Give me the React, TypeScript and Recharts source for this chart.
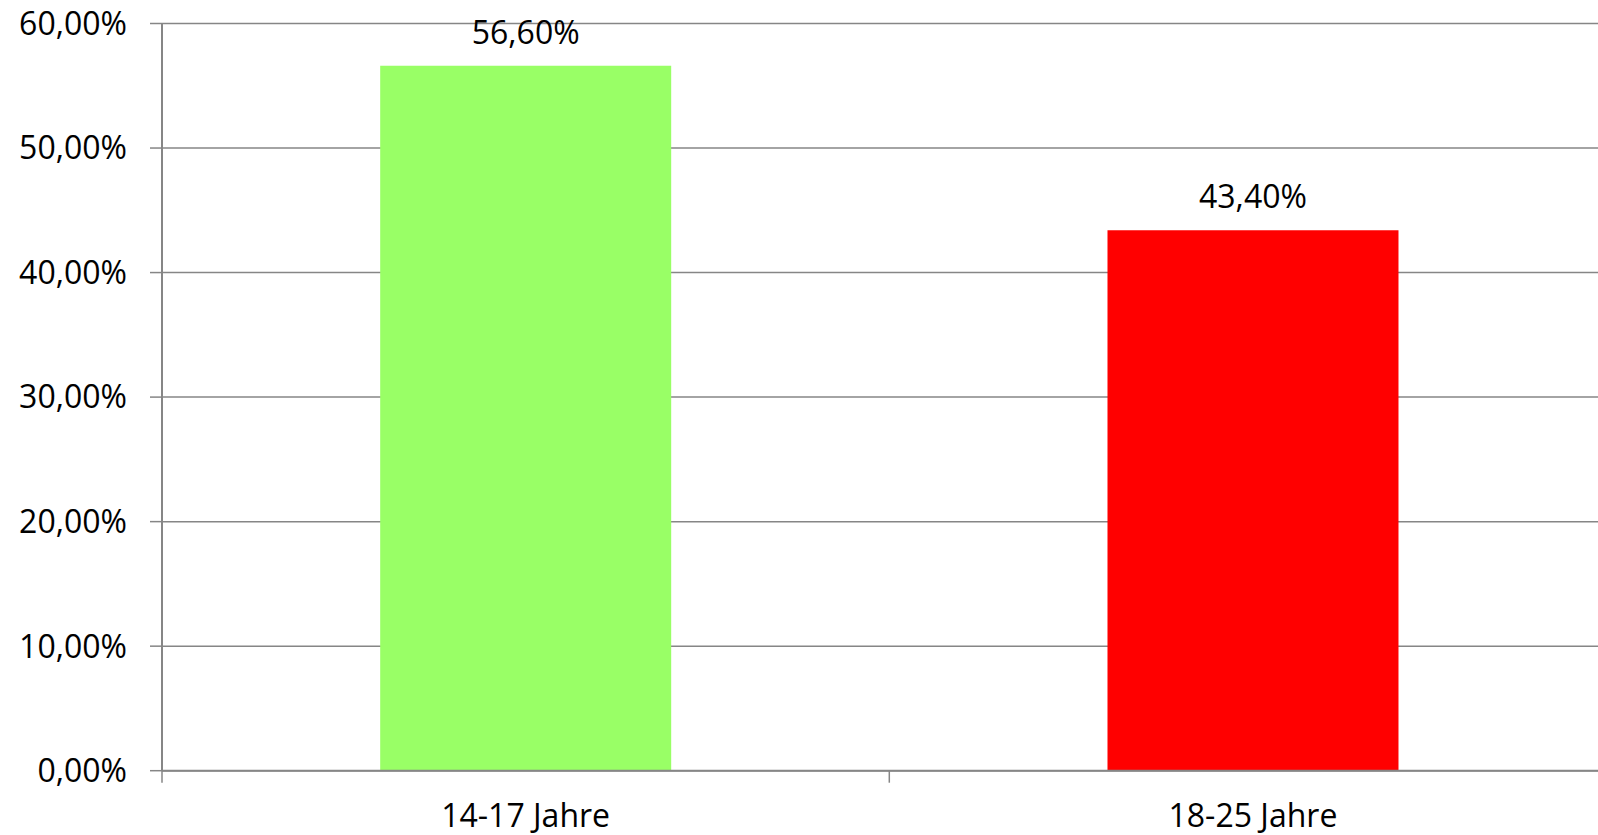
import React from 'react';
import { BarChart, Bar, XAxis, YAxis, CartesianGrid, Cell, LabelList } from 'recharts';

const categories = ['14-17 Jahre', '18-25 Jahre'];
const shares = [0.566, 0.434];
const barColors = ['#99FF66', '#FF0000'];
const yTicks = [0, 0.1, 0.2, 0.3, 0.4, 0.5, 0.6];

const data = categories.map((name, i) => ({ name, value: shares[i] }));

const pct = (v: number) => (v * 100).toFixed(2).replace('.', ',') + '%';

const FONT = '"Open Sans", "Noto Sans", sans-serif';
const AXIS = '#868686';

// category label in the middle, tick mark on the left edge of each band
const CategoryTick = (props: any) => {
  const { x, y, payload } = props;
  const half = payload && payload.offset ? payload.offset : 0;
  return (
    <g>
      <line x1={x - half} x2={x - half} y1={y} y2={y + 12} stroke={AXIS} strokeWidth={1.5} />
      <text x={x} y={y + 56} textAnchor="middle" fill="#000" fontSize={32} fontFamily={FONT}>
        {payload.value}
      </text>
    </g>
  );
};

const App: React.FC = () => {
  return (
    <div style={{ position: 'fixed', left: 0, top: 0, width: 1598, height: 835, overflow: 'hidden', background: '#fff' }}>
      <BarChart
        width={1620}
        height={835}
        data={data}
        margin={{ top: 23.5, right: 3.4, bottom: 0, left: 0 }}
        barCategoryGap="30%"
      >
        <CartesianGrid vertical={false} stroke={AXIS} strokeWidth={1.5} />
        <XAxis
          dataKey="name"
          height={64.3}
          axisLine={{ stroke: AXIS, strokeWidth: 2 }}
          tickLine={false}
          tickSize={0}
          tickMargin={0}
          tick={<CategoryTick />}
          interval={0}
        />
        <YAxis
          width={162}
          domain={[0, 0.6]}
          ticks={yTicks}
          tickFormatter={pct}
          axisLine={{ stroke: AXIS, strokeWidth: 2 }}
          tickLine={{ stroke: AXIS, strokeWidth: 1.5 }}
          tickSize={12}
          tickMargin={23}
          tick={{ fill: '#000', fontSize: 32, fontFamily: FONT }}
        />
        <Bar dataKey="value" isAnimationActive={false}>
          {data.map((d, i) => (
            <Cell key={d.name} fill={barColors[i]} />
          ))}
          <LabelList
            dataKey="value"
            position="top"
            offset={22}
            formatter={(v: any) => pct(Number(v))}
            fill="#000"
            fontSize={32}
            fontFamily={FONT}
          />
        </Bar>
      </BarChart>
    </div>
  );
};

export default App;
